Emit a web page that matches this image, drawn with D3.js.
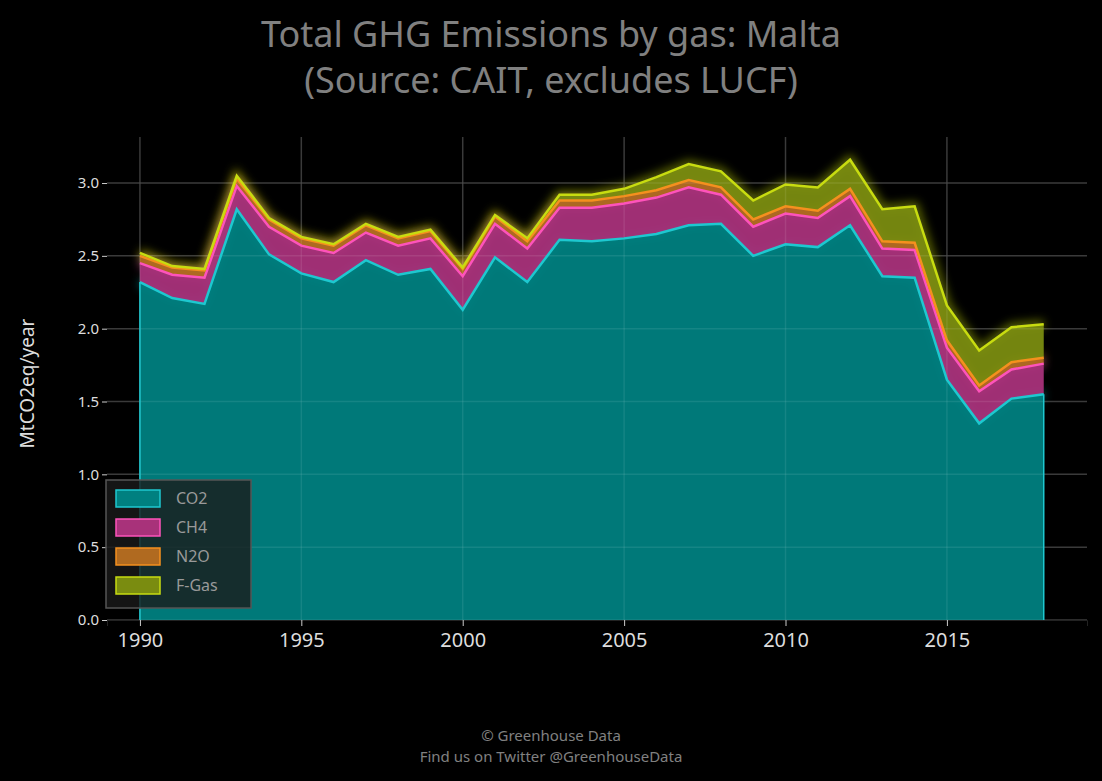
<!DOCTYPE html>
<html>
<head>
<script src="https://d3js.org/d3.v7.min.js"></script>
<style>
  body { margin: 0; background: #000; }
  text { font-family: "Noto Sans", sans-serif; }
</style>
</head>
<body>
<div id="chart"></div>
<script>
// data (MtCO2eq/year)
const years = d3.range(1990, 2019);
const co2 = [2.32,2.21,2.17,2.82,2.51,2.38,2.32,2.47,2.37,2.41,2.13,2.49,2.32,2.61,2.60,2.62,2.65,2.71,2.72,2.50,2.58,2.56,2.71,2.36,2.35,1.65,1.35,1.52,1.55];
const ch4 = [0.13,0.16,0.18,0.16,0.19,0.19,0.20,0.19,0.20,0.21,0.23,0.23,0.23,0.22,0.23,0.24,0.25,0.26,0.20,0.20,0.21,0.20,0.20,0.19,0.19,0.22,0.22,0.20,0.21];
const n2o = [0.05,0.05,0.05,0.05,0.05,0.05,0.05,0.05,0.05,0.05,0.05,0.05,0.05,0.05,0.05,0.05,0.05,0.05,0.05,0.05,0.05,0.05,0.05,0.05,0.05,0.05,0.04,0.05,0.04];
const fgas = [0.02,0.01,0.01,0.02,0.01,0.01,0.01,0.01,0.01,0.01,0.01,0.01,0.02,0.04,0.04,0.05,0.09,0.11,0.11,0.13,0.15,0.16,0.20,0.22,0.25,0.24,0.24,0.24,0.23];
const gases = ["CO2", "CH4", "N2O", "F-Gas"];
const yTicks = [0, 0.5, 1, 1.5, 2, 2.5, 3];
const xTicks = [1990, 1995, 2000, 2005, 2010, 2015];

const colors = {
  "CO2":   { fill: "#008080", line: "#1ec8d0" },
  "CH4":   { fill: "#a8327a", line: "#fe53bb" },
  "N2O":   { fill: "#b06a20", line: "#f5901e" },
  "F-Gas": { fill: "#7a8c10", line: "#c8dc10" }
};

const W = 1102, H = 781;
const margin = { top: 137, right: 15, bottom: 161, left: 107 };
const width = W - margin.left - margin.right;
const height = H - margin.top - margin.bottom;

const table = years.map((yr, i) => ({ year: yr, "CO2": co2[i], "CH4": ch4[i], "N2O": n2o[i], "F-Gas": fgas[i] }));
const series = d3.stack().keys(gases)(table);

const svg = d3.select("#chart").append("svg")
  .attr("width", W).attr("height", H)
  .style("background", "#000");

const defs = svg.append("defs");
defs.append("filter").attr("id", "glow")
  .attr("x", "-10%").attr("y", "-10%").attr("width", "120%").attr("height", "120%")
  .append("feGaussianBlur").attr("stdDeviation", 5);

// title
svg.append("text").attr("x", W / 2).attr("y", 47).attr("text-anchor", "middle")
  .attr("fill", "#808080").attr("font-size", 36).text("Total GHG Emissions by gas: Malta");
svg.append("text").attr("x", W / 2).attr("y", 93).attr("text-anchor", "middle")
  .attr("fill", "#808080").attr("font-size", 36).text("(Source: CAIT, excludes LUCF)");

const g = svg.append("g").attr("transform", `translate(${margin.left},${margin.top})`);

const x = d3.scaleLinear().domain([1988.98, 2019.34]).range([0, width]);
const y = d3.scaleLinear().domain([0, 3.316]).range([height, 0]);

// grid
g.append("g").selectAll("line").data(yTicks).join("line")
  .attr("x1", 0).attr("x2", width).attr("y1", d => y(d)).attr("y2", d => y(d))
  .attr("stroke", "#2a2a2a").attr("stroke-width", 1.5);
g.append("g").selectAll("line").data(xTicks).join("line")
  .attr("x1", d => x(d)).attr("x2", d => x(d)).attr("y1", 0).attr("y2", height)
  .attr("stroke", "#2a2a2a").attr("stroke-width", 1.5);

const area = d3.area().x(d => x(d.data.year)).y0(d => y(d[0])).y1(d => y(d[1]));
const line = d3.line().x(d => x(d.data.year)).y(d => y(d[1]));

// glow
g.append("g").attr("filter", "url(#glow)").selectAll("path").data(series).join("path")
  .attr("d", line).attr("fill", "none")
  .attr("stroke", d => colors[d.key].line).attr("stroke-width", 8).attr("opacity", 0.5);

g.append("g").selectAll("path").data(series).join("path")
  .attr("d", area).attr("fill", d => colors[d.key].fill).attr("opacity", 0.95);

// grid shows faintly through area
g.append("g").selectAll("line").data(yTicks).join("line")
  .attr("x1", 0).attr("x2", width).attr("y1", d => y(d)).attr("y2", d => y(d))
  .attr("stroke", "#ffffff").attr("stroke-opacity", 0.08).attr("stroke-width", 1.5);
g.append("g").selectAll("line").data(xTicks).join("line")
  .attr("x1", d => x(d)).attr("x2", d => x(d)).attr("y1", 0).attr("y2", height)
  .attr("stroke", "#ffffff").attr("stroke-opacity", 0.08).attr("stroke-width", 1.5);

g.append("g").selectAll("path").data(series).join("path")
  .attr("d", line).attr("fill", "none")
  .attr("stroke", d => colors[d.key].line).attr("stroke-width", 2.5);

// side edges of the area
g.append("line").attr("x1", x(1990)).attr("x2", x(1990)).attr("y1", y(0)).attr("y2", y(co2[0]))
  .attr("stroke", "#1ec8d0").attr("stroke-width", 1.5);
g.append("line").attr("x1", x(2018)).attr("x2", x(2018)).attr("y1", y(0)).attr("y2", y(co2[co2.length - 1]))
  .attr("stroke", "#1ec8d0").attr("stroke-width", 1.5);

// axes
const yAxis = g.append("g").call(d3.axisLeft(y).tickValues(yTicks).tickFormat(d3.format(".1f")).tickSize(5));
yAxis.select(".domain").remove();
yAxis.selectAll("line").attr("stroke", "#ccc");
yAxis.selectAll("text").attr("fill", "#ddd").attr("font-size", 15);

const xAxis = g.append("g").attr("transform", `translate(0,${height})`)
  .call(d3.axisBottom(x).tickValues(xTicks).tickFormat(d3.format("d")).tickSize(6));
xAxis.select(".domain").attr("stroke", "#222");
xAxis.selectAll("line").attr("stroke", "#ccc");
xAxis.selectAll("text").attr("fill", "#ddd").attr("font-size", 20).attr("dy", "0.9em");

svg.append("text").attr("transform", `translate(34,${margin.top + height / 2 + 5}) rotate(-90)`)
  .attr("text-anchor", "middle").attr("fill", "#ddd").attr("font-size", 19).text("MtCO2eq/year");

// legend
const lg = svg.append("g").attr("transform", "translate(106,480)");
lg.append("rect").attr("width", 145).attr("height", 128).attr("fill", "#1a1a1a")
  .attr("fill-opacity", 0.8).attr("stroke", "#555").attr("stroke-width", 1.5);
gases.forEach((k, i) => {
  const row = lg.append("g").attr("transform", `translate(10,${10 + i * 29})`);
  row.append("rect").attr("width", 44).attr("height", 17)
    .attr("fill", colors[k].fill).attr("stroke", colors[k].line).attr("stroke-width", 1.5);
  row.append("text").attr("x", 60).attr("y", 14).attr("fill", "#999").attr("font-size", 16).text(k);
});

// footer
svg.append("text").attr("x", W / 2).attr("y", 741).attr("text-anchor", "middle")
  .attr("fill", "#808080").attr("font-size", 15).text("© Greenhouse Data");
svg.append("text").attr("x", W / 2).attr("y", 762).attr("text-anchor", "middle")
  .attr("fill", "#808080").attr("font-size", 15).text("Find us on Twitter @GreenhouseData");
</script>
</body>
</html>
